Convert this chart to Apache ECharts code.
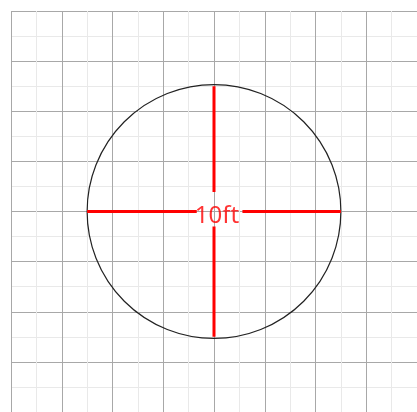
<!DOCTYPE html>
<html>
<head>
<meta charset="utf-8">
<script src="https://cdn.jsdelivr.net/npm/echarts@6/dist/echarts.min.js"></script>
<style>
html,body{margin:0;padding:0;background:#fff;}
#main{width:417px;height:412px;}
</style>
</head>
<body>
<div id="main"></div>
<script>
// Data (units: feet)
var axisRange = [0, 16];
var majorStep = 2;
var circleCenter = [8, 8];
var circleRadius = 5;
var diameterLabel = '10ft';
// red diameter segments (broken around the label)
var horizontalSegments = [[[3, 8], [7.32, 8]], [[9.12, 8], [13, 8]]];
var verticalSegments = [[[8, 3], [8, 7.22]], [[8, 8.6], [8, 13]]];

var chart = echarts.init(document.getElementById('main'), null, {renderer: 'canvas'});

function axis(extra) {
  return Object.assign({
    type: 'value',
    min: axisRange[0],
    max: axisRange[1],
    interval: majorStep,
    axisLine: {show: false},
    axisTick: {show: false},
    axisLabel: {show: false},
    splitLine: {show: true, lineStyle: {color: '#a8a8a8', width: 1}},
    minorTick: {show: false, splitNumber: 2},
    minorSplitLine: {show: true, lineStyle: {color: '#e9e9e9', width: 1}}
  }, extra || {});
}

var segSeries = horizontalSegments.concat(verticalSegments).map(function (seg) {
  return {
    type: 'line',
    data: seg,
    symbol: 'none',
    silent: true,
    z: 3,
    lineStyle: {color: '#ff0000', width: 3}
  };
});

var option = {
  animation: false,
  backgroundColor: '#ffffff',
  grid: {left: 11, top: 11, width: 406, height: 406, containLabel: false},
  xAxis: axis(),
  yAxis: axis({inverse: true}),
  series: [
    {
      type: 'custom',
      z: 2,
      silent: true,
      data: [[circleCenter[0], circleCenter[1], circleRadius]],
      renderItem: function (params, api) {
        var c = api.coord([api.value(0), api.value(1)]);
        var r = api.size([api.value(2), 0])[0];
        return {
          type: 'circle',
          shape: {cx: c[0], cy: c[1], r: r},
          style: {fill: null, stroke: '#222222', lineWidth: 1.2}
        };
      }
    }
  ].concat(segSeries).concat([
    {
      type: 'scatter',
      symbolSize: 0,
      z: 4,
      silent: true,
      data: [circleCenter],
      label: {
        show: true,
        position: 'inside',
        formatter: diameterLabel,
        color: '#ff0000',
        fontSize: 24,
        fontFamily: 'Noto Sans',
        textBorderWidth: 0,
        textBorderColor: 'transparent',
        offset: [3, 5]
      }
    }
  ])
};
chart.setOption(option);
</script>
</body>
</html>
